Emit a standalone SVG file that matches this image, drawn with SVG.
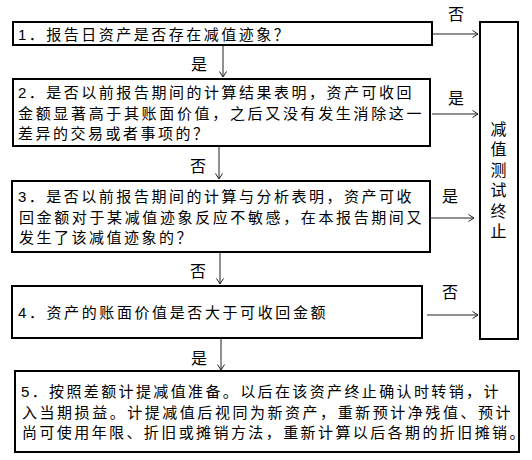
<svg xmlns="http://www.w3.org/2000/svg" width="532" height="460" viewBox="0 0 532 460">
<style>
.box{fill:#fff;stroke:#000;stroke-width:2}
.t{font-family:"Liberation Sans","Noto Sans CJK SC",sans-serif;font-size:15px;fill:#000;letter-spacing:2.5px}
.lbl{font-family:"Liberation Sans","Noto Sans CJK SC",sans-serif;font-size:16px;fill:#000;text-anchor:middle}
.c{stroke:#222;stroke-width:1;fill:none;marker-end:url(#ah)}
</style>
<defs>
<marker id="ah" markerUnits="userSpaceOnUse" markerWidth="8" markerHeight="10" refX="6" refY="4" orient="auto">
<path d="M0.5,0.5 L6,4 L0.5,7.5" fill="none" stroke="#222" stroke-width="1"/>
</marker>
</defs>
<rect width="532" height="460" fill="#fff"/>
<g id="connectors">
<line class="c" x1="433" y1="34" x2="478" y2="34"/>
<line class="c" x1="432" y1="114" x2="478" y2="114"/>
<line class="c" x1="428" y1="218" x2="474" y2="218"/>
<line class="c" x1="427" y1="315" x2="478" y2="315"/>
<line class="c" x1="223" y1="46" x2="223" y2="77"/>
<line class="c" x1="219" y1="147" x2="219" y2="179"/>
<line class="c" x1="220" y1="253" x2="220" y2="284"/>
<line class="c" x1="221" y1="339" x2="221" y2="370"/>
<text class="lbl" x="456" y="20">否</text>
<text class="lbl" x="456" y="104">是</text>
<text class="lbl" x="450" y="202">是</text>
<text class="lbl" x="450" y="298">否</text>
<text class="lbl" x="199" y="70">是</text>
<text class="lbl" x="198" y="172">否</text>
<text class="lbl" x="198" y="277">否</text>
<text class="lbl" x="199" y="364">是</text>
</g>
<g id="n1">
<rect class="box" x="13" y="22" width="419" height="23"/>
<text class="t" x="18" y="40">1．报告日资产是否存在减值迹象？</text>
</g>
<g id="n2">
<rect class="box" x="13" y="79" width="417" height="67"/>
<text class="t" x="18" y="98" textLength="396" lengthAdjust="spacing">2．是否以前报告期间的计算结果表明，资产可收回</text>
<text class="t" x="18" y="119" textLength="406" lengthAdjust="spacing">金额显著高于其账面价值，之后又没有发生消除这一</text>
<text class="t" x="18" y="139">差异的交易或者事项的？</text>
</g>
<g id="n3">
<rect class="box" x="12" y="181" width="418" height="71"/>
<text class="t" x="18" y="202" textLength="396" lengthAdjust="spacing">3．是否以前报告期间的计算与分析表明，资产可收</text>
<text class="t" x="19" y="222.5" textLength="405" lengthAdjust="spacing">回金额对于某减值迹象反应不敏感，在本报告期间又</text>
<text class="t" x="19" y="243">发生了该减值迹象的？</text>
</g>
<g id="n4">
<rect class="box" x="12" y="286" width="410" height="52"/>
<text class="t" x="18" y="318" textLength="310" lengthAdjust="spacing">4．资产的账面价值是否大于可收回金额</text>
</g>
<g id="n5">
<rect class="box" x="15" y="371" width="504" height="81"/>
<text class="t" x="21" y="397" textLength="480" lengthAdjust="spacing">5．按照差额计提减值准备。以后在该资产终止确认时转销，计</text>
<text class="t" x="22" y="418" textLength="491" lengthAdjust="spacing">入当期损益。计提减值后视同为新资产，重新预计净残值、预计</text>
<text class="t" x="22" y="438" textLength="505" lengthAdjust="spacing">尚可使用年限、折旧或摊销方法，重新计算以后各期的折旧摊销。</text>
</g>
<g id="end">
<rect class="box" x="480" y="22" width="38" height="317"/>
<text class="lbl" x="498.5" y="134.5">减</text>
<text class="lbl" x="498.5" y="155">值</text>
<text class="lbl" x="498.5" y="175.5">测</text>
<text class="lbl" x="498.5" y="196">试</text>
<text class="lbl" x="498.5" y="216.5">终</text>
<text class="lbl" x="498.5" y="237">止</text>
</g>
</svg>
